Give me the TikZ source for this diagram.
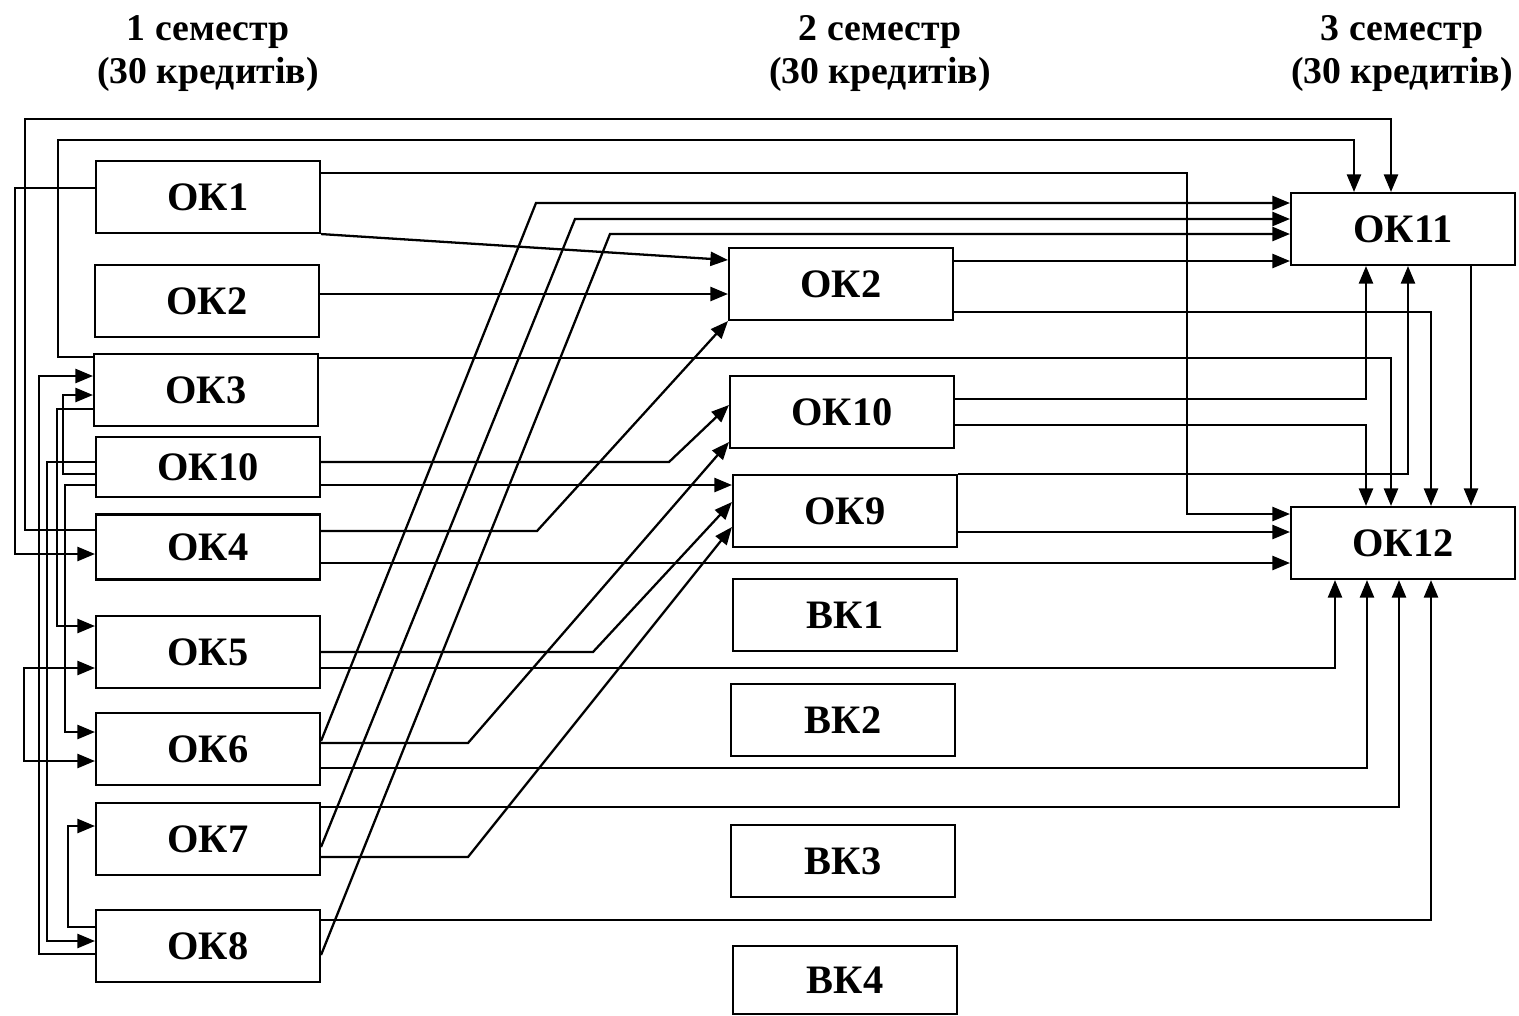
\documentclass[tikz,border=0pt]{standalone}
\usepackage{fontspec}
\setmainfont{Liberation Serif}
\usetikzlibrary{arrows.meta}

\tikzset{
  okbox/.style={draw, line width=1.2pt, minimum width=4.48cm, minimum height=1.44cm,
    inner sep=0pt, font=\bfseries\fontsize{23}{27}\selectfont},
  head/.style={anchor=base, font=\bfseries\fontsize{21.5}{25}\selectfont},
  con/.style={line width=1.3pt},
  arr/.style={con, -{Triangle[length=10pt, width=8pt]}},
  darr/.style={con, {Triangle[length=10pt, width=8pt]}-{Triangle[length=10pt, width=8pt]}}
}

\begin{document}
\begin{tikzpicture}[x=0.02cm, y=-0.02cm]
      \useasboundingbox (0,0) rectangle (1519,1015);

      % Semesters
      \foreach \x/\n in {208/1, 880/2, 1402/3} {
        \node[head] (sem\n) at (\x,40) {\n{} семестр};
        \node[head] (cred\n) at (\x,83) {(30 кредитів)};
      }

      % 1 semester
      \node[okbox] (ok1) at (208,197) {ОК1};
      \node[okbox] (ok2a) at (207,301) {ОК2};
      \node[okbox] (ok3) at (206,390) {ОК3};
      \node[okbox, minimum height=1.2cm] (ok10a) at (208,467) {ОК10};
      \node[okbox, minimum height=1.3cm] (ok4) at (208,547) {ОК4};
      \node[okbox] (ok5) at (208,652) {ОК5};
      \node[okbox] (ok6) at (208,749) {ОК6};
      \node[okbox] (ok7) at (208,839) {ОК7};
      \node[okbox] (ok8) at (208,946) {ОК8};

      % 2 semester
      \node[okbox] (ok2b) at (841,284) {ОК2};
      \node[okbox] (ok10b) at (842,412) {ОК10};
      \node[okbox] (ok9) at (845,511) {ОК9};
      \node[okbox] (vk1) at (845,615) {ВК1};
      \node[okbox] (vk2) at (843,720) {ВК2};
      \node[okbox] (vk3) at (843,861) {ВК3};
      \node[okbox, minimum height=1.36cm] (vk4) at (845,980) {ВК4};

      % 3 semester
      \node[okbox] (ok11) at (1403,229) {ОК11};
      \node[okbox] (ok12) at (1403,543) {ОК12};

      % Left side links
      \draw[arr] (ok1.west |- 0,188) -| (15,554) -- (ok4.west |- 0,554);
      \draw[arr] (ok4.west |- 0,530) -| (25,119) -| (1391,0 |- ok11.north);
      \draw[arr] (ok3.west |- 0,357) -| (58,140) -| (1354,0 |- ok11.north);
      \draw[arr] (ok3.west |- 0,409) -| (57,626) -- (ok5.west |- 0,626);
      \draw[arr] (ok8.west |- 0,954) -| (39,376) -- (ok3.west |- 0,376);
      \draw[arr] (ok10a.west |- 0,474) -| (63,395) -- (ok3.west |- 0,395);
      \draw[arr] (ok10a.west |- 0,462) -| (47,941) -- (ok8.west |- 0,941);
      \draw[arr] (ok10a.west |- 0,485) -| (65,732) -- (ok6.west |- 0,732);
      \draw[darr] (ok5.west |- 0,668) -| (24,761) -- (ok6.west |- 0,761);
      \draw[arr] (ok8.west |- 0,927) -| (68,826) -- (ok7.west |- 0,826);

      % 1 semester to 2 and 3
      \draw[arr] (ok1.east |- 0,173) -| (1187,514) -- (ok12.west |- 0,514);
      \draw[arr] (ok1.south east) -- (ok2b.west |- 0,260);
      \draw[arr] (ok2a.east |- 0,294) -- (ok2b.west |- 0,294);
      \draw[arr] (ok3.east |- 0,358) -| (1391,0 |- ok12.north);
      \draw[arr] (ok10a.east |- 0,462) -- (669,462) -- (ok10b.west |- 0,405);
      \draw[arr] (ok10a.east |- 0,485) -- (ok9.west |- 0,485);
      \draw[arr] (ok4.east |- 0,531) -- (537,531) -- (ok2b.south west);
      \draw[arr] (ok4.east |- 0,563) -- (ok12.west |- 0,563);
      \draw[arr] (ok5.east |- 0,652) -- (593,652) -- (ok9.west |- 0,502);
      \draw[arr] (ok5.east |- 0,668) -| (1335,0 |- ok12.south);
      \draw[arr] (ok6.east |- 0,741) -- (536,203) -- (ok11.west |- 0,203);
      \draw[arr] (ok6.east |- 0,743) -- (468,743) -- (ok10b.west |- 0,442);
      \draw[arr] (ok6.east |- 0,768) -| (1367,0 |- ok12.south);
      \draw[arr] (ok7.east |- 0,847) -- (575,219) -- (ok11.west |- 0,219);
      \draw[arr] (ok7.east |- 0,857) -- (468,857) -- (ok9.west |- 0,527);
      \draw[arr] (ok7.east |- 0,807) -| (1399,0 |- ok12.south);
      \draw[arr] (ok8.east |- 0,955) -- (610,234) -- (ok11.west |- 0,234);
      \draw[arr] (ok8.east |- 0,920) -| (1431,0 |- ok12.south);

      % 2 semester to 3
      \draw[arr] (ok2b.east |- 0,261) -- (ok11.west |- 0,261);
      \draw[arr] (ok2b.east |- 0,312) -| (1431,0 |- ok12.north);
      \draw[arr] (ok10b.east |- 0,399) -| (1366,0 |- ok11.south);
      \draw[arr] (ok10b.east |- 0,425) -| (1366,0 |- ok12.north);
      \draw[arr] (ok9.north east) -| (1408,0 |- ok11.south);
      \draw[arr] (ok9.east |- 0,532) -- (ok12.west |- 0,532);
      \draw[arr] (ok11.south -| 1471,0) -- (ok12.north -| 1471,0);

\end{tikzpicture}
\end{document}
